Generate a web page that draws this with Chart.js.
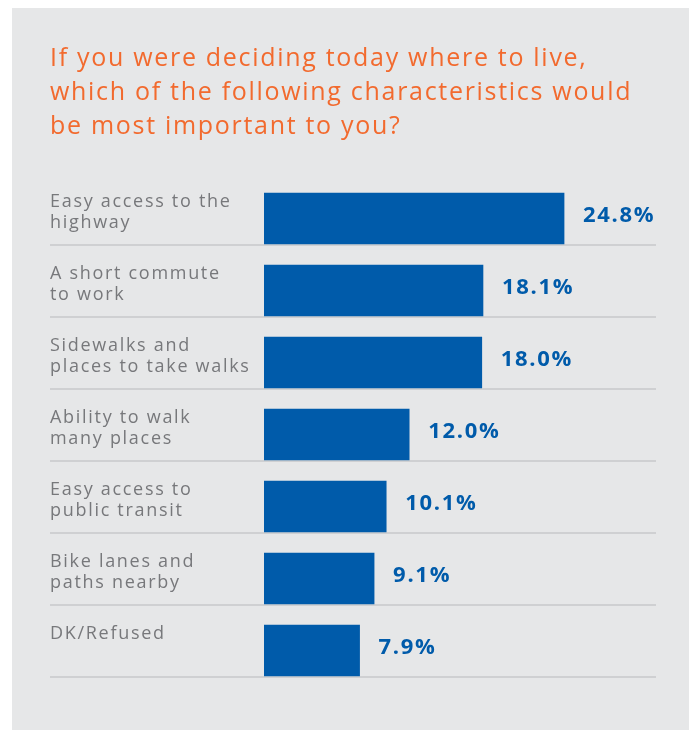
<!DOCTYPE html>
<html>
<head>
    <title>Where to live</title>
    <script src="https://cdn.jsdelivr.net/npm/chart.js"></script>
    <style>
        body { margin: 0; background: #ffffff; }
        .panel {
            position: absolute;
            left: 12px; top: 8px; right: 0; bottom: 0;
            background: #e6e7e8;
        }
        #chart {
            position: absolute;
            left: 0; top: 0;
        }
    </style>
</head>
<body>
    <div class="panel"></div>
    <canvas id="chart" width="689" height="730"></canvas>

    <script>
        const titleLines = [
            'If you were deciding today where to live,',
            'which of the following characteristics would',
            'be most important to you?'
        ];
        const categories = [
            ['Easy access to the', 'highway'],
            ['A short commute', 'to work'],
            ['Sidewalks and', 'places to take walks'],
            ['Ability to walk', 'many places'],
            ['Easy access to', 'public transit'],
            ['Bike lanes and', 'paths nearby'],
            ['DK/Refused', '']
        ];
        const values = [24.8, 18.1, 18.0, 12.0, 10.1, 9.1, 7.9];

        const blue = '#005baa';
        const font = '"Open Sans", sans-serif';

        // the original font is wide and tracked out, so loosen the letters a bit
        const spacingPlugin = {
            id: 'spacing',
            beforeDraw(chart) {
                chart.ctx.letterSpacing = '1.7px';
            }
        };

        // thin grey rule under each bar, from the label column to the right edge
        const rulePlugin = {
            id: 'rules',
            beforeDatasetsDraw(chart) {
                const ctx = chart.ctx;
                const left = chart.scales.y.left;
                const right = chart.chartArea.right;
                ctx.save();
                ctx.strokeStyle = '#cfd0d2';
                ctx.lineWidth = 2;
                chart.getDatasetMeta(0).data.forEach(bar => {
                    const y = bar.y + bar.height / 2 + 1;
                    ctx.beginPath();
                    ctx.moveTo(left, y);
                    ctx.lineTo(right, y);
                    ctx.stroke();
                });
                ctx.restore();
            }
        };

        // value labels at the end of each bar
        const valuePlugin = {
            id: 'values',
            afterDatasetsDraw(chart) {
                const ctx = chart.ctx;
                ctx.save();
                ctx.fillStyle = blue;
                ctx.font = 'bold 22px ' + font;
                ctx.textAlign = 'left';
                ctx.textBaseline = 'alphabetic';
                chart.getDatasetMeta(0).data.forEach((bar, i) => {
                    ctx.fillText(values[i].toFixed(1) + '%', bar.x + 19, bar.y + 3);
                });
                ctx.restore();
            }
        };

        new Chart(document.getElementById('chart'), {
            type: 'bar',
            data: {
                labels: categories,
                datasets: [{
                    data: values,
                    backgroundColor: blue,
                    barThickness: 51
                }]
            },
            options: {
                indexAxis: 'y',
                responsive: false,
                animation: false,
                layout: {
                    padding: { left: 50, right: 33, top: 0, bottom: 43.5 }
                },
                scales: {
                    x: {
                        display: false,
                        min: 0,
                        max: 32.4
                    },
                    y: {
                        grid: { display: false },
                        border: { display: false },
                        ticks: {
                            crossAlign: 'far',
                            color: '#77787b',
                            labelOffset: -6,
                            font: { family: font, size: 18, lineHeight: '21px' }
                        },
                        afterFit(scale) { scale.width = 214; }
                    }
                },
                plugins: {
                    legend: { display: false },
                    tooltip: { enabled: false },
                    title: {
                        display: true,
                        text: titleLines,
                        align: 'start',
                        color: '#f26a2e',
                        font: { family: font, size: 25, weight: '500', lineHeight: '34px' },
                        padding: { top: 42, bottom: 38.5 }
                    }
                }
            },
            plugins: [spacingPlugin, rulePlugin, valuePlugin]
        });
    </script>
</body>
</html>
